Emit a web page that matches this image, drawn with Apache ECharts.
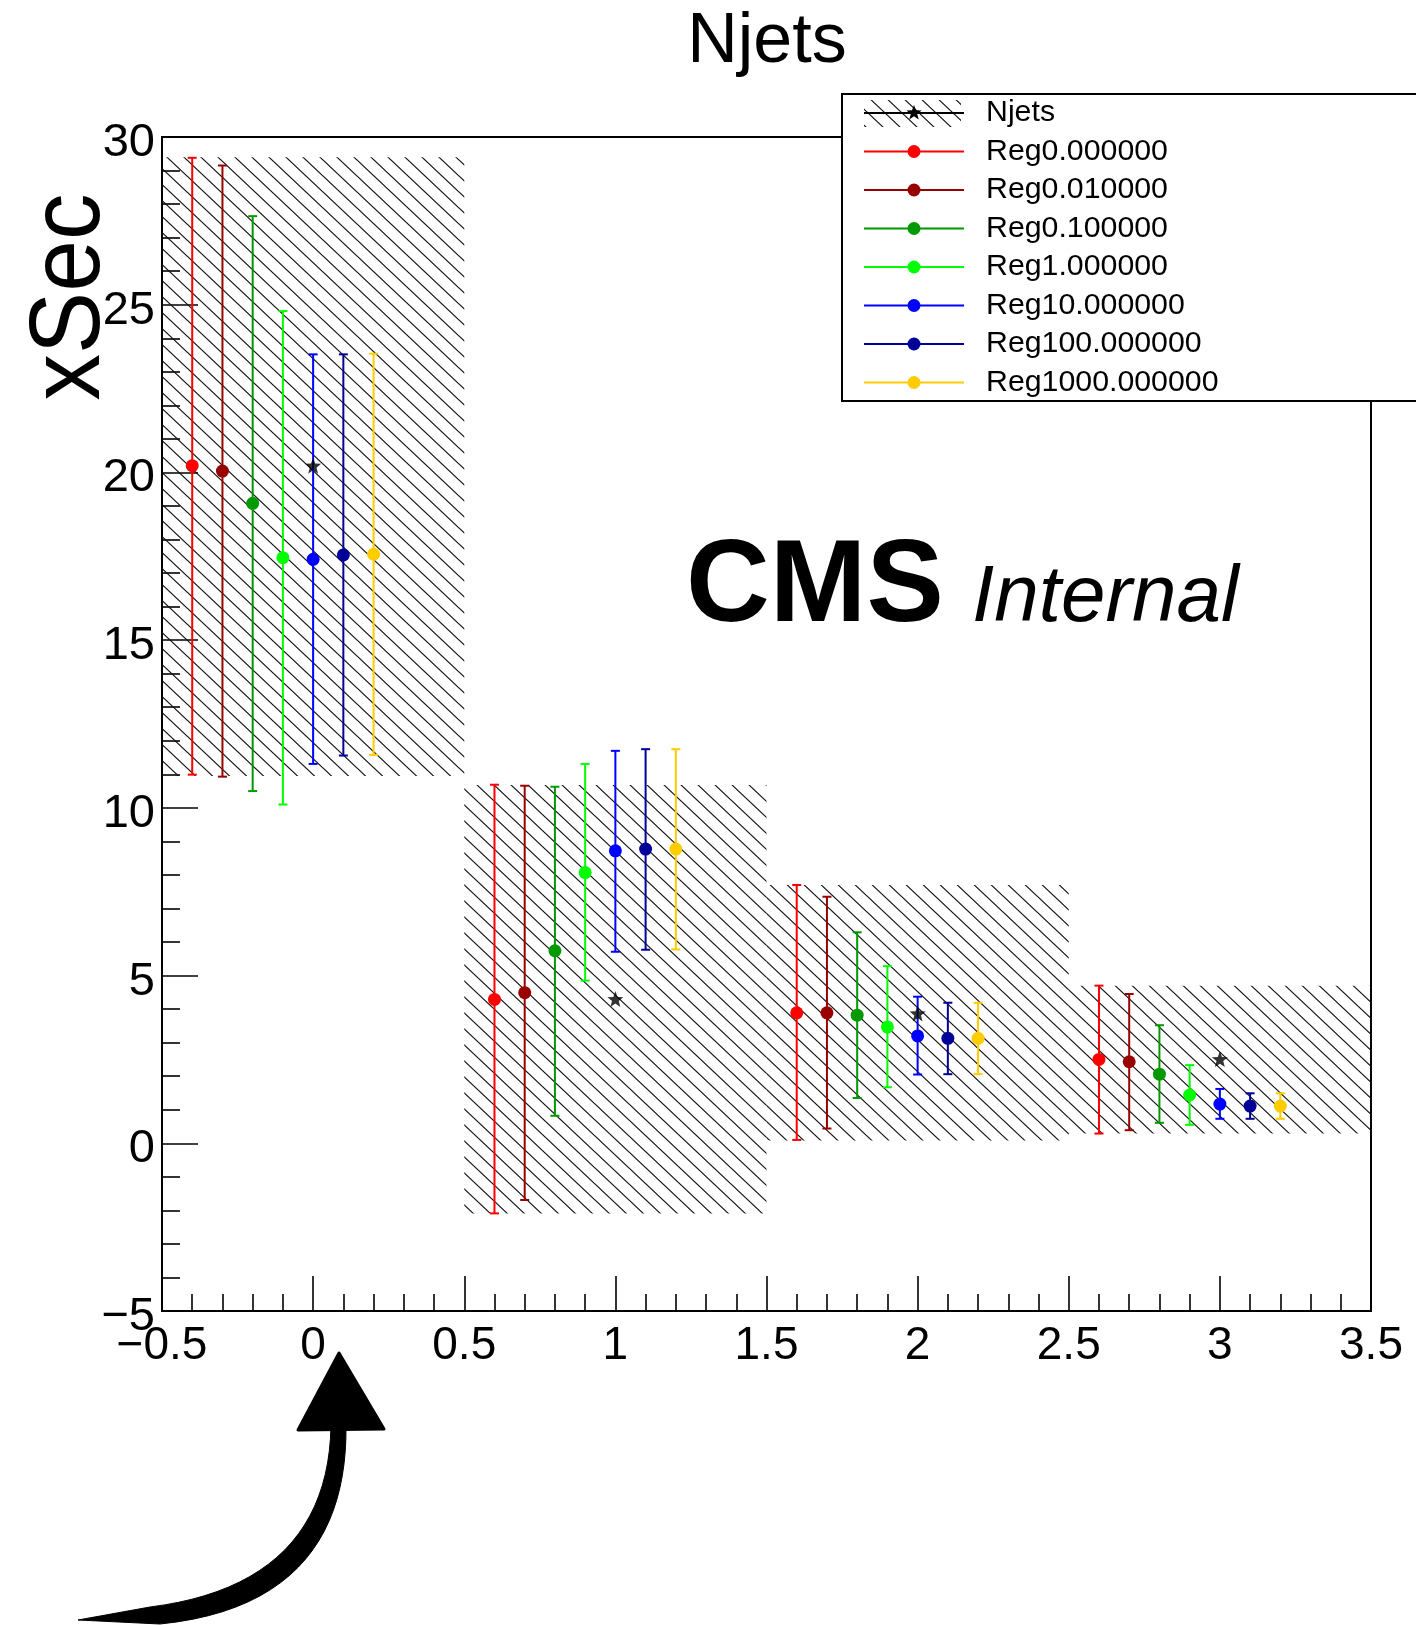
<!DOCTYPE html>
<html>
<head>
<meta charset="utf-8">
<title>Njets</title>
<script src="https://cdn.jsdelivr.net/npm/echarts@6/dist/echarts.min.js"></script>
<style>
  html, body { margin: 0; padding: 0; background: #fff; }
  #main { width: 1416px; height: 1625px; }
</style>
</head>
<body>
<div id="main"></div>
<script>
// bins of the Njets histogram
var binCenters = [0, 1, 2, 3];
var binLow = [-0.5, 0.5, 1.5, 2.5];
var binHigh = [0.5, 1.5, 2.5, 3.5];

// reference (hatched band + star)
var njetsValue = [20.2, 4.3, 3.87, 2.51];
var njetsLow = [10.95, -2.09, 0.08, 0.29];
var njetsHigh = [29.4, 10.68, 7.7, 4.7];

// unfolded results for each regularisation strength
var regNames = ['Reg0.000000', 'Reg0.010000', 'Reg0.100000', 'Reg1.000000',
                'Reg10.000000', 'Reg100.000000', 'Reg1000.000000'];
var regColors = ['#ff0000', '#990000', '#009900', '#00ff00', '#0000ff', '#000099', '#ffcc00'];
var regOffsets = [-0.4, -0.3, -0.2, -0.1, 0, 0.1, 0.2];
var regValue = [
  [20.2, 4.29, 3.89, 2.50],
  [20.04, 4.49, 3.89, 2.43],
  [19.08, 5.74, 3.82, 2.06],
  [17.46, 8.07, 3.47, 1.44],
  [17.41, 8.72, 3.20, 1.17],
  [17.54, 8.77, 3.13, 1.11],
  [17.56, 8.77, 3.13, 1.11]
];
var regLow = [
  [10.99, -2.09, 0.10, 0.29],
  [10.93, -1.69, 0.44, 0.39],
  [10.5, 0.82, 1.35, 0.61],
  [10.1, 4.85, 1.67, 0.55],
  [11.31, 5.71, 2.05, 0.73],
  [11.56, 5.77, 2.06, 0.73],
  [11.58, 5.78, 2.06, 0.73]
];
var regHigh = [
  [29.38, 10.69, 7.70, 4.70],
  [29.15, 10.66, 7.35, 4.45],
  [27.64, 10.63, 6.29, 3.52],
  [24.81, 11.31, 5.28, 2.33],
  [23.52, 11.70, 4.37, 1.62],
  [23.52, 11.75, 4.19, 1.49],
  [23.54, 11.75, 4.19, 1.49]
];

var FONT = 'Liberation Sans, Arial, Helvetica, sans-serif';

// hatch tile, lines going down to the right
function makeHatch() {
  var w = 17, h = 16;
  var c = document.createElement('canvas');
  c.width = w; c.height = h;
  var g = c.getContext('2d');
  g.strokeStyle = '#111';
  g.lineWidth = 1.15;
  g.beginPath();
  g.moveTo(-w, -h); g.lineTo(2 * w, 2 * h);
  g.moveTo(-w, 0); g.lineTo(w, 2 * h);
  g.moveTo(0, -h); g.lineTo(2 * w, h);
  g.stroke();
  return c;
}
var hatch = { image: makeHatch(), repeat: 'repeat' };

function starPts(cx, cy, R) {
  var pts = [];
  for (var i = 0; i < 10; i++) {
    var a = -Math.PI / 2 + i * Math.PI / 5;
    var r = i % 2 ? R * 0.42 : R;
    pts.push([cx + r * Math.cos(a), cy + r * Math.sin(a)]);
  }
  return pts;
}
var starSymbol = 'path://M' + starPts(10, 10, 10).map(function (p) {
  return p[0].toFixed(2) + ',' + p[1].toFixed(2);
}).join(' L') + ' Z';

// sample a cubic bezier into points (for the arrow outline)
function bez(p0, p1, p2, p3, n) {
  var out = [];
  for (var i = 0; i <= n; i++) {
    var t = i / n, u = 1 - t;
    out.push([
      u * u * u * p0[0] + 3 * u * u * t * p1[0] + 3 * u * t * t * p2[0] + t * t * t * p3[0],
      u * u * u * p0[1] + 3 * u * u * t * p1[1] + 3 * u * t * t * p2[1] + t * t * t * p3[1]
    ]);
  }
  return out;
}

var series = [];

// hatched band
series.push({
  name: 'Njets band',
  type: 'custom',
  z: 1,
  renderItem: function (params, api) {
    var p0 = api.coord([api.value(0), api.value(3)]);
    var p1 = api.coord([api.value(1), api.value(2)]);
    return {
      type: 'rect',
      shape: { x: p0[0], y: p0[1], width: p1[0] - p0[0], height: p1[1] - p0[1] },
      style: { fill: hatch, stroke: null }
    };
  },
  data: binCenters.map(function (c, i) { return [binLow[i], binHigh[i], njetsLow[i], njetsHigh[i]]; })
});

function errorBars(color) {
  return function (params, api) {
    var x = api.value(0);
    var top = api.coord([x, api.value(2)]);
    var bot = api.coord([x, api.value(1)]);
    var w = 4.5;
    var st = { stroke: color, lineWidth: 2 };
    return {
      type: 'group',
      children: [
        { type: 'line', shape: { x1: top[0], y1: top[1], x2: bot[0], y2: bot[1] }, style: st },
        { type: 'line', shape: { x1: top[0] - w, y1: top[1], x2: top[0] + w, y2: top[1] }, style: st },
        { type: 'line', shape: { x1: bot[0] - w, y1: bot[1], x2: bot[0] + w, y2: bot[1] }, style: st }
      ]
    };
  };
}

regNames.forEach(function (name, k) {
  series.push({
    name: name,
    type: 'custom',
    z: 2,
    renderItem: errorBars(regColors[k]),
    data: binCenters.map(function (c, i) { return [c + regOffsets[k], regLow[k][i], regHigh[k][i]]; })
  });
  series.push({
    name: name,
    type: 'scatter',
    z: 3,
    symbol: 'circle',
    symbolSize: 13,
    itemStyle: { color: regColors[k], opacity: 1 },
    data: binCenters.map(function (c, i) { return [c + regOffsets[k], regValue[k][i]]; })
  });
});

series.push({
  name: 'Njets',
  type: 'scatter',
  z: 4,
  symbol: starSymbol,
  symbolSize: 16,
  itemStyle: { color: '#000' },
  data: binCenters.map(function (c, i) { return [c, njetsValue[i]]; })
});

// legend box drawn by hand to get the ROOT look
var graphics = [];
var lgX = 842, lgY = 94, rowY0 = 113, rowStep = 38.5;
graphics.push({
  type: 'rect', z: 100,
  shape: { x: lgX, y: lgY, width: 600, height: 307 },
  style: { fill: '#fff', stroke: '#000', lineWidth: 2 }
});
graphics.push({
  type: 'rect', z: 101,
  shape: { x: 864, y: rowY0 - 13, width: 97, height: 27 },
  style: { fill: hatch }
});
graphics.push({
  type: 'line', z: 102,
  shape: { x1: 864, y1: rowY0, x2: 964, y2: rowY0 },
  style: { stroke: '#000', lineWidth: 2 }
});
graphics.push({
  type: 'polygon', z: 103,
  shape: { points: starPts(914, rowY0, 8) },
  style: { fill: '#000' }
});
var legendTexts = ['Njets'].concat(regNames);
legendTexts.forEach(function (t, i) {
  var y = rowY0 + i * rowStep;
  if (i > 0) {
    graphics.push({
      type: 'line', z: 101,
      shape: { x1: 864, y1: y, x2: 964, y2: y },
      style: { stroke: regColors[i - 1], lineWidth: 2 }
    });
    graphics.push({
      type: 'circle', z: 102,
      shape: { cx: 914, cy: y, r: 6.5 },
      style: { fill: regColors[i - 1] }
    });
  }
  graphics.push({
    type: 'text', z: 103, x: 986, y: y,
    style: { text: t, fill: '#000', font: '30.3px ' + FONT, align: 'left', verticalAlign: 'middle' }
  });
});

// titles and labels
graphics.push({
  type: 'text', z: 50, x: 767, y: 43,
  style: { text: 'Njets', fill: '#000', font: '70px ' + FONT, align: 'center', verticalAlign: 'middle' }
});
graphics.push({
  type: 'text', z: 50, x: 71, y: 297, rotation: Math.PI / 2, scaleX: 0.93,
  style: { text: 'xSec', fill: '#000', font: '100px ' + FONT, align: 'center', verticalAlign: 'middle' }
});
graphics.push({
  type: 'text', z: 50, x: 686, y: 589,
  style: { text: 'CMS', fill: '#000', font: 'bold 116px ' + FONT, align: 'left', verticalAlign: 'middle' }
});
graphics.push({
  type: 'text', z: 50, x: 972, y: 599,
  style: { text: 'Internal', fill: '#000', font: 'italic 80px ' + FONT, align: 'left', verticalAlign: 'middle' }
});

// hand drawn arrow pointing at x = 0
var outerEdge = bez([346, 1426], [347, 1530], [300, 1610], [160, 1624], 24);
var innerEdge = bez([150, 1607], [270, 1592], [329, 1530], [331, 1426], 24);
graphics.push({
  type: 'polygon', z: 50,
  shape: { points: outerEdge.concat([[78, 1620]], innerEdge) },
  style: { fill: '#000', stroke: '#000', lineWidth: 1 }
});
graphics.push({
  type: 'polygon', z: 50,
  shape: { points: [[339, 1353], [384, 1429], [298, 1430]] },
  style: { fill: '#000', stroke: '#000', lineWidth: 3, lineJoin: 'round' }
});

function minusLabel(v) { return String(v).replace('-', '\u2212'); }

var axisCommon = {
  type: 'value',
  axisLine: { show: true, onZero: false, lineStyle: { color: '#000', width: 2 } },
  splitLine: { show: false },
  minorSplitLine: { show: false }
};

var option = {
  animation: false,
  backgroundColor: '#fff',
  grid: {
    left: 162, right: 45, top: 137, bottom: 314,
    show: true, borderColor: '#000', borderWidth: 2,
    outerBoundsMode: 'none'
  },
  xAxis: Object.assign({}, axisCommon, {
    min: -0.5, max: 3.5, interval: 0.5,
    axisTick: { inside: true, length: 35, lineStyle: { color: '#000', width: 1.6 } },
    minorTick: { show: true, splitNumber: 5, length: 17, lineStyle: { color: '#000', width: 1.6 } },
    axisLabel: { color: '#000', fontSize: 46, fontFamily: FONT, margin: 12,
      showMinLabel: true, showMaxLabel: true, formatter: minusLabel }
  }),
  yAxis: Object.assign({}, axisCommon, {
    min: -5, max: 30, interval: 5,
    axisTick: { inside: true, length: 36, lineStyle: { color: '#000', width: 1.6 } },
    minorTick: { show: true, splitNumber: 5, length: 18, lineStyle: { color: '#000', width: 1.6 } },
    axisLabel: { color: '#000', fontSize: 47, fontFamily: FONT, margin: 7,
      verticalAlign: 'top', lineHeight: 12,
      showMinLabel: true, showMaxLabel: true, formatter: minusLabel }
  }),
  series: series,
  graphic: graphics
};

var chart = echarts.init(document.getElementById('main'));
chart.setOption(option);
</script>
</body>
</html>
